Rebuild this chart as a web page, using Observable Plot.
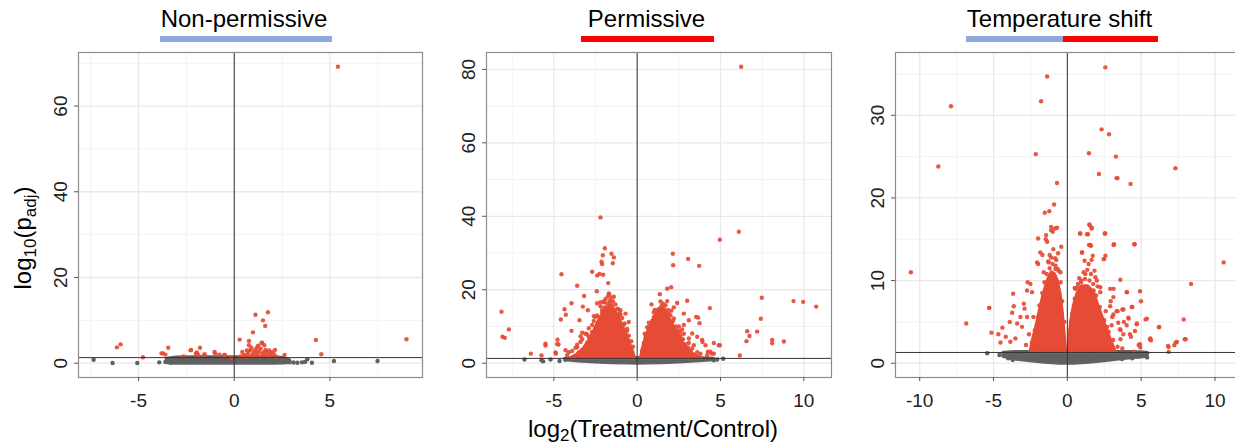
<!DOCTYPE html>
<html><head><meta charset="utf-8">
<script src="https://cdn.jsdelivr.net/npm/d3@7"></script>
<script src="https://cdn.jsdelivr.net/npm/@observablehq/plot@0.6"></script>
<style>
html,body{margin:0;padding:0;background:#fff;overflow:hidden;width:1235px;height:446px;}
#wrap{position:relative;width:1235px;height:446px;font-family:"Liberation Sans",Arial,sans-serif;overflow:hidden;}
.panel{position:absolute;top:0;height:446px;}
.panel svg{max-width:none !important;}
#overlay{position:absolute;left:0;top:0;pointer-events:none;}
</style></head><body>
<div id="wrap">
  <div class="panel" id="p1" style="left:0px;width:430px"></div>
  <div class="panel" id="p2" style="left:430px;width:410px"></div>
  <div class="panel" id="p3" style="left:840px;width:405px"></div>
  <svg id="overlay" width="1235" height="446" font-family="Liberation Sans, Arial, sans-serif">
    <text x="244" y="27" text-anchor="middle" font-size="24" fill="#000">Non-permissive</text>
    <rect x="160" y="36" width="172" height="6" fill="#8eaadb"></rect>
    <text x="646.5" y="27" text-anchor="middle" font-size="24" fill="#000">Permissive</text>
    <rect x="581" y="36" width="133" height="6" fill="#ff0000"></rect>
    <text x="1059.5" y="27" text-anchor="middle" font-size="24" fill="#000">Temperature shift</text>
    <rect x="966" y="36" width="97" height="6" fill="#8eaadb"></rect>
    <rect x="1063" y="36" width="95" height="6" fill="#ff0000"></rect>
    <text x="653" y="437" text-anchor="middle" font-size="24" fill="#000">log<tspan font-size="17" dy="4">2</tspan><tspan dy="-4">(Treatment/Control)</tspan></text>
    <text transform="translate(31,238) rotate(-90)" text-anchor="middle" font-size="24" fill="#000">log<tspan font-size="17" dy="5">10</tspan><tspan dy="-5">(p</tspan><tspan font-size="17" dy="5">adj</tspan><tspan dy="-5">)</tspan></text>
  </svg>
</div>
<script>
const threshold = 1.3;
const RED = "#e64b35", GRAY = "#616161";

// ---------- Non-permissive ----------
const npXTicks = [-5, 0, 5];
const npXMinor = [-7.5, -2.5, 2.5, 7.5];
const npYTicks = [0, 20, 40, 60];
const npYMinor = [10, 30, 50, 70];
const npRed = [
  [5.42,69.2],[9.0,5.6],[4.27,5.4],[4.55,2.1],[1.11,11.3],[1.76,11.9],[1.5,10.0],[1.62,8.7],[0.98,7.2],
  [0.28,5.5],[0.77,5.2],[1.45,4.8],[0.77,4.2],[1.43,4.7],[1.57,4.2],[0.42,2.6],[0.66,3.0],[0.84,3.1],
  [1.1,3.1],[1.19,3.7],[1.38,3.4],[1.64,3.1],[1.82,3.0],[1.99,2.6],[2.13,3.1],[1.9,2.3],[1.73,2.4],
  [1.47,2.3],[1.21,2.3],[0.95,2.1],[0.69,2.1],[0.51,1.9],[1.03,2.6],[1.29,2.8],[1.56,2.6],[2.08,2.1],
  [2.63,1.9],[0.34,1.6],[0.6,1.5],[0.85,1.6],[1.1,1.7],[1.35,1.6],[1.6,1.7],[1.85,1.6],[2.2,1.5],
  [0.9,3.6],[1.25,4.1],[0.75,2.7],
  [-6.13,3.7],[-5.94,4.4],[-4.77,1.4],[-3.45,3.6],[-3.73,2.3],[-3.6,2.0],[-2.26,3.1],[-1.79,3.6],
  [-2.65,1.6],[-1.95,2.5],[-1.57,1.8],[-1.03,2.6],[-0.78,2.0],[-0.49,1.9],[-0.19,1.3],[-3.8,2.3],
  [-2.28,3.0],[-2.0,2.3],[-1.88,1.9],[-1.55,2.1],[-1.0,2.3],[-0.52,1.9],[-0.14,1.3]
];
const npGray = [
  [-7.35,0.8],[-6.36,0.05],[-5.07,0.05],[-3.92,0.2],[5.21,0.5],[7.49,0.5],[3.82,0.9],[4.06,0.1],
  [3.54,0.2],[3.1,0.15],[3.3,0.1],[2.9,0.2],[3.7,0.3],[-3.6,0.3],[-3.3,0.1],[2.75,0.4]
];
const npBandX  = [-3.5,-3,-2,-1,0,1,2,2.6,2.9];
const npBandLo = [0.1,0,0,0,0,0,0,0.05,0.15];
const npBandHi = [0.9,1.2,1.25,1.25,1.25,1.25,1.25,1.1,0.6];

// ---------- Permissive ----------
const pXTicks = [-5, 0, 5, 10];
const pXMinor = [-7.5, -2.5, 2.5, 7.5];
const pYTicks = [0, 20, 40, 60, 80];
const pYMinor = [10, 30, 50, 70];
const pRed = [
  [6.24,80.7],[-2.2,39.7],[6.1,35.8],[4.96,33.6],[-1.94,31.3],[-2.06,29.4],[-1.54,29.8],[-1.4,28.8],
  [-1.46,27.2],[-2.14,27.6],[-2.1,27.0],[2.14,29.8],[3.06,28.4],[2.16,26.7],[3.72,26.5],[-2.7,24.9],
  [-4.54,24.2],[-2.4,23.9],[-2.26,24.3],[-2.04,24.1],[-1.74,21.8],[-3.6,21.1],[-2.42,19.6],[-3.18,18.3],
  [-1.68,18.8],[1.8,20.3],[2.04,20.7],[1.36,18.8],[7.48,17.8],[9.38,16.9],[9.96,16.7],[10.74,15.4],
  [3.0,17.0],[4.36,15.0],[0.86,16.0],[-3.94,16.3],[-3.26,15.4],[-4.36,14.7],[-8.14,14.0],[-4.28,13.2],
  [-4.58,11.9],[3.54,12.6],[3.66,12.4],[3.74,10.9],[7.42,12.1],[-7.7,9.2],[-8.08,7.2],[-7.94,6.9],
  [6.6,8.7],[7.2,8.6],[6.74,7.4],[6.56,6.0],[8.1,6.3],[8.1,5.4],[8.8,5.9],[-3.94,8.8],[-5.5,5.3],
  [-5.5,4.8],[-4.78,6.4],[-4.72,5.1],[-4.88,2.6],[-6.38,2.6],[-5.74,2.1],[6.16,2.1],[4.6,5.5],
  [4.96,4.9],[3.92,5.8],[4.24,3.1],[4.46,2.6],
  [-3.46,11.7],[-2.96,14.4],[-3.3,8.3],[-4.8,5.2],[-4.9,2.9],[-4.3,3.5],[-3.6,4.4],[-3.4,5.8],
  [-2.9,7.2],[-2.7,10.4],[-2.5,12.6],[-2.4,16.3],[-2.2,16.6],[-2.0,16.6],[-1.7,19.0],[-1.4,18.1],
  [-1.0,14.4],[-0.7,13.5],[-0.5,11.2],[-3.3,3.5],
  [2.4,16.4],[2.8,13.5],[3.1,11.7],[2.8,10.4],[3.3,8.1],[3.6,7.2],[3.9,6.3],[3.1,6.7],[3.4,4.9],
  [4.1,4.9],[4.9,4.9],[4.4,3.1],[4.6,2.6],[4.2,2.2],[3.8,2.6],[2.56,8.5],[2.3,6.3],[2.0,4.5],
  [-1.5,15.5],[-1.8,15.0],[-2.1,14.5],[-1.2,14.8],[-1.0,13.2],[-2.4,13.0],[-2.6,11.5],[-2.9,9.5],
  [-3.1,8.0],[-3.3,6.5],[-3.6,5.0],[-3.9,3.3],[-4.2,2.2],[-0.8,10.5],[-0.6,8.8],
  [1.3,14.8],[1.6,15.0],[1.0,13.8],[1.9,13.5],[2.2,12.2],[2.5,10.0],[2.8,8.0],[3.1,5.5],[3.3,4.0],
  [3.6,3.0],[0.7,11.0],[0.45,8.0],[2.05,14.3],
  [-3.7,2.0],[-3.5,3.0],[-3.2,3.8],[-3.0,5.5],[-2.8,6.5],[-2.7,8.5],[-2.5,9.5],[-2.35,11],[-2.25,12.5],
  [-2.1,13.8],[-1.95,15.2],[-1.8,16.2],[-1.65,17.0],[-1.55,17.8],[-1.45,16.8],[-1.3,16],[-1.15,14.8],
  [-1.05,13.8],[-0.9,12.3],[-0.75,10.8],[-0.6,9.3],[-0.5,7.5],[-0.35,6],[-0.25,4.5],[-1.9,17.5],
  [-1.75,18.2],[-2.0,16.8],[-1.6,16.3],[-2.2,15.5],[-2.6,12.8],[-3.4,7.3],[-3.0,7.8],[-3.7,4.2],[-4.1,3.0],
  [0.3,3.5],[0.4,5.5],[0.5,7],[0.65,8.5],[0.75,10],[0.9,11.5],[1.0,12.5],[1.15,13.5],[1.25,14.5],
  [1.45,15.5],[1.55,16.2],[1.7,15.8],[1.85,14.5],[2.0,13],[2.15,11.5],[2.3,10],[2.45,9],[2.6,7.5],
  [2.75,6.5],[2.9,5.2],[3.05,4.3],[3.2,3.3],[3.45,2.3],[3.7,1.8],[1.4,16.8],[1.8,16.9],[2.2,15.2],
  [1.05,14.5],[0.6,9.8],[2.7,9.2]
];
const pGray = [
  [-6.76,1.0],[-5.74,0.8],[-5.64,0.5],[-5.2,1.0],[-4.66,0.6],[5.16,1.2],[4.8,1.0],[4.6,0.8],[-4.3,0.9]
];
const pCoreL = [[-4.0,1.3],[-3.6,2.3],[-3.2,4],[-2.9,6],[-2.6,8.5],[-2.35,11],[-2.1,13],[-1.85,14.8],
  [-1.6,15.5],[-1.35,14.5],[-1.1,12.5],[-0.85,10],[-0.6,7.5],[-0.4,5],[-0.22,2.8],[-0.12,1.3]];
const pCoreR = [[0.22,1.3],[0.35,4],[0.5,6.5],[0.7,9],[0.95,11.5],[1.2,13.5],[1.45,14.8],[1.65,14.5],
  [1.9,12.5],[2.2,10],[2.5,7.5],[2.8,5.2],[3.1,3.5],[3.5,2],[3.9,1.3]];
const pBandX  = [-4.3,-3.5,-2.5,-1.5,-0.5,0,0.5,1.5,2.5,3.5,4.6];
const pBandLo = [0.9,0.6,0.35,0.15,0.03,0,0.03,0.15,0.35,0.6,0.9];
const pBandHi = [1.1,1.3,1.3,1.3,1.3,1.3,1.3,1.3,1.3,1.3,1.1];

// ---------- Temperature shift ----------
const tsXTicks = [-10, -5, 0, 5, 10];
const tsXMinor = [-7.5, -2.5, 2.5, 7.5];
const tsYTicks = [0, 10, 20, 30];
const tsYMinor = [5, 15, 25, 35];
const tsRed = [
  [2.57,35.8],[-1.37,34.7],[-1.78,31.7],[-7.88,31.1],[2.32,28.3],[2.82,27.7],[-8.74,23.8],[7.32,23.6],
  [-2.14,25.3],[1.46,25.4],[3.29,25.0],[2.14,22.9],[3.4,22.4],[3.33,22.4],[4.28,21.7],[-0.7,21.8],
  [-0.9,19.2],[-1.22,18.4],[-1.53,18.2],[-10.6,11.0],[10.59,12.2],[8.38,9.6],[-6.85,4.8],[-5.29,6.7],
  [-5.14,3.7],[7.88,5.3],[8.02,2.9],[6.2,4.35],[6.86,1.97],[6.86,1.37],[7.24,2.18],[7.42,2.58],[5.66,2.78],
  [-0.83,16.3],[-1.1,16.1],[-0.99,15.9],[-1.44,15.5],[-1.98,15.1],[-0.41,14.1],[-1.46,15.0],[-1.37,14.7],
  [-1.83,13.4],[-1.69,13.1],[-1.2,13.1],[-0.83,12.7],[-0.63,13.3],[-2.05,12.2],[-1.98,12.0],[-1.26,12.2],
  [-0.81,11.4],[-0.65,11.4],[-0.47,11.0],[-2.69,9.8],[-2.5,9.6],[-3.67,8.4],[-5.3,6.7],[-4.67,3.5],
  [-4.53,2.5],[-4.4,4.3],[-3.63,6.9],[-3.18,5.6],[-3.74,6.1],[-2.95,7.2],[-2.73,8.8],[-2.39,8.6],
  [-2.9,6.6],[-3.4,4.8],[-3.9,5.0],[-4.17,3.2],[-3.86,2.6],[-3.52,3.0],[-2.73,5.6],[-3.07,4.4],
  [-1.1,16.5],[-0.7,16.4],
  [0.86,15.7],[1.4,15.6],[1.49,16.8],[1.64,16.3],[1.47,14.3],[1.6,14.2],[2.57,15.7],[3.16,14.4],
  [4.56,14.4],[0.99,13.4],[1.17,12.4],[1.44,12.0],[1.64,12.5],[1.84,11.2],[2.58,13.0],[2.49,12.6],
  [3.59,10.1],[2.0,10.0],[0.5,9.1],[0.72,9.6],[1.06,8.8],[1.78,8.8],[2.23,9.2],[2.9,9.0],[3.12,8.0],
  [4.02,8.6],[4.92,8.7],[4.99,7.5],[4.36,6.8],[3.8,6.5],[3.34,6.3],[2.9,6.9],[3.12,5.9],[4.13,5.5],
  [4.7,4.7],[5.3,5.3],[4.02,4.6],[3.45,4.9],[3.79,3.5],[4.24,3.5],[3.57,4.1],[4.58,3.9],[5.6,2.9],
  [4.92,2.3],[6.82,2.1],[7.34,2.5],[7.95,2.9],[4.94,1.9],[4.5,1.4],[2.49,3.3],[2.79,2.6],
  [1.51,16.7],[1.66,16.4],[0.88,15.7],[1.33,15.6],[2.53,15.7],[3.13,14.3],[4.53,14.4],[1.0,13.4],
  [1.56,14.3],[1.72,13.0],[2.46,12.6],[1.22,10.8],[1.9,10.4],[0.54,9.0],[0.92,9.8],[2.23,8.6],
  [3.13,9.0],[4.04,8.6],[4.4,6.8],[3.72,6.5],[2.94,7.5],[3.4,6.3],[4.15,5.4],[4.71,4.8],[5.39,5.4],
  [6.22,4.4],[3.83,5.0],[3.04,5.6],[2.7,4.4],[3.6,4.0],[4.31,3.2],[4.83,2.2],[5.62,3.0],[3.72,1.8],
  [-2.4,2.5],[-2.2,4],[-2.0,5.5],[-1.9,7],[-1.7,8.5],[-1.55,9.8],[-1.4,10.8],[-1.2,11.5],[-1.0,12],
  [-0.8,11.8],[-0.6,11.2],[-0.45,9.8],[-0.35,7.5],[-0.2,5],[-1.1,12.8],[-0.95,13.8],[-0.75,12.5],
  [-1.3,12.3],[-1.6,11],[-2.6,3.5],[-2.8,2.2],[-2.3,5.6],
  [0.2,4],[0.35,6],[0.5,7.8],[0.7,9.2],[0.95,10],[1.2,10.2],[1.5,10],[1.75,9.6],[1.95,8.2],[2.2,6.8],
  [2.5,5.2],[2.8,3.8],[3.1,2.8],[3.4,2],[1.1,11],[1.35,11.3],[1.6,10.8],[0.8,10.3],[2.05,9.3],[2.6,6.3],
  [3.0,4.6],[3.6,2.9]
];
const tsGray = [
  [-5.43,1.2],[5.4,1.2],[5.4,0.7],[4.79,0.8],[4.1,1.0],[-4.6,1.0],[-4.0,0.6],[4.4,0.6],[-3.7,0.4],[3.7,0.5]
];
const tsCoreL = [[-2.5,1.3],[-2.3,3],[-2.05,4.8],[-1.85,6.5],[-1.65,8],[-1.45,9.3],[-1.25,10.3],
  [-1.05,11],[-0.85,10.8],[-0.65,10],[-0.45,8.3],[-0.3,6],[-0.18,3.5],[-0.08,1.3]];
const tsCoreR = [[0.08,1.3],[0.15,3],[0.25,5],[0.45,7],[0.7,8.5],[1.0,9.3],[1.4,9.3],[1.8,8.6],
  [2.1,7],[2.4,5.5],[2.7,4],[3.0,2.6],[3.3,1.3]];
const tsBandX  = [-4.3,-3.5,-2.5,-1.5,-0.5,0,0.5,1.5,2.5,3.5,4.5,5.4];
const tsBandLo = [0.8,0.5,0.3,0.1,0,0,0,0.1,0.3,0.5,0.7,0.8];
const tsBandHi = [1.2,1.3,1.3,1.3,1.3,1.3,1.3,1.3,1.3,1.3,1.3,1.2];

function toPts(arr) { return arr.map(([x, y]) => ({x, y})); }
function band(xs, lo, hi) { return xs.map((x, i) => ({x, lo: lo[i], hi: hi[i]})); }

function panel(el, o) {
  const fmt = d => String(d);
  const plot = Plot.plot({
    width: o.width, height: 446,
    marginTop: 52, marginBottom: 69, marginLeft: o.marginLeft, marginRight: o.marginRight,
    x: {domain: o.xDomain},
    y: {domain: o.yDomain},
    style: {fontFamily: "Liberation Sans, Arial, sans-serif", background: "transparent", maxWidth: "none"},
    marks: [
      Plot.ruleX(o.xMinor, {stroke: "#f3f3f3", strokeWidth: 1}),
      Plot.ruleY(o.yMinor, {stroke: "#f3f3f3", strokeWidth: 1}),
      Plot.ruleX(o.xTicks, {stroke: "#e9e9e9", strokeWidth: 1.3}),
      Plot.ruleY(o.yTicks, {stroke: "#e9e9e9", strokeWidth: 1.3}),
      Plot.areaY(o.band, {x: "x", y1: "lo", y2: "hi", fill: GRAY, stroke: GRAY, strokeWidth: 4, strokeLinejoin: "round"}),
      Plot.dot(toPts(o.gray), {x: "x", y: "y", r: 2.2, fill: GRAY, stroke: "none"}),
      ...o.cores.map(c => Plot.areaY(toPts(c), {x: "x", y1: threshold, y2: "y", fill: RED, stroke: RED, strokeWidth: 3, strokeLinejoin: "round"})),
      Plot.dot(toPts(o.red), {x: "x", y: "y", r: 2.2, fill: RED, fillOpacity: 0.92, stroke: "none"}),
      Plot.ruleY([threshold], {stroke: "#333", strokeWidth: 1}),
      Plot.ruleX([0], {stroke: "#333", strokeWidth: 1}),
      Plot.frame({stroke: "#8c8c8c", strokeWidth: 1.2}),
      Plot.axisX({ticks: o.xTicks, tickSize: 4, tickPadding: 12, tickFormat: fmt, fontSize: 19, fill: "#222", stroke: "#555", label: null}),
      Plot.axisY({ticks: o.yTicks, tickSize: 4, tickFormat: () => "", stroke: "#555", label: null}),
      Plot.text(o.yTicks, {y: d => d, text: fmt, frameAnchor: "left", dx: -18, rotate: -90, textAnchor: "middle", lineAnchor: "middle", fontSize: 19, fill: "#222"})
    ]
  });
  document.getElementById(el).appendChild(plot);
}

panel("p1", {width: 430, marginLeft: 78, marginRight: 8, xDomain: [-8.14, 9.84], yDomain: [-3.34, 72.5],
  xTicks: npXTicks, xMinor: npXMinor, yTicks: npYTicks, yMinor: npYMinor,
  band: band(npBandX, npBandLo, npBandHi), gray: npGray, cores: [], red: npRed});
panel("p2", {width: 410, marginLeft: 56, marginRight: 9, xDomain: [-9.04, 11.66], yDomain: [-3.9, 84.6],
  xTicks: pXTicks, xMinor: pXMinor, yTicks: pYTicks, yMinor: pYMinor,
  band: band(pBandX, pBandLo, pBandHi), gray: pGray, cores: [pCoreL, pCoreR], red: pRed});
panel("p3", {width: 405, marginLeft: 55, marginRight: 6, xDomain: [-11.64, 11.66], yDomain: [-1.73, 37.6],
  xTicks: tsXTicks, xMinor: tsXMinor, yTicks: tsYTicks, yMinor: tsYMinor,
  band: band(tsBandX, tsBandLo, tsBandHi), gray: tsGray, cores: [tsCoreL, tsCoreR], red: tsRed});
</script>
</body></html>
